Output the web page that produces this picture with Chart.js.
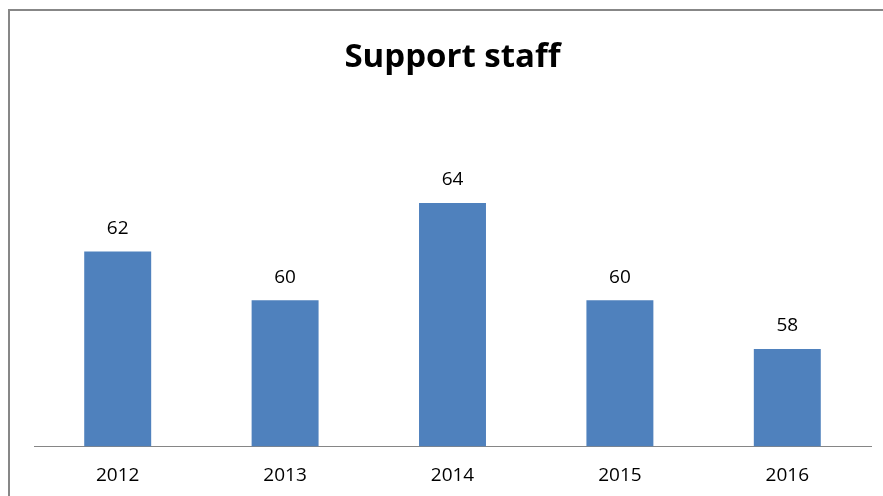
<!DOCTYPE html>
<html>
<head>
<meta charset="utf-8">
<script src="https://cdn.jsdelivr.net/npm/chart.js@4"></script>
<style>
  body { margin: 0; background: #fff; }
  #wrap { position: relative; width: 883px; height: 496px; overflow: hidden; }
  #frame { position: absolute; left: 8px; top: 9px; width: 900px; height: 520px; border-top: 2px solid #878787; border-left: 2px solid #878787; }
  canvas { position: absolute; left: 0; top: 0; }
</style>
</head>
<body>
<div id="wrap">
  <div id="frame"></div>
  <canvas id="chart" width="883" height="496"></canvas>
</div>
<script>
const years = ["2012", "2013", "2014", "2015", "2016"];
const staff = [62, 60, 64, 60, 58];

const context = document.getElementById("chart").getContext("2d");

// value labels above the bars
const barLabels = {
    id: "barLabels",
    afterDatasetsDraw(chart) {
        const ctx = chart.ctx;
        const meta = chart.getDatasetMeta(0);
        ctx.save();
        ctx.font = "19px 'Open Sans'";
        ctx.fillStyle = "#000";
        ctx.textAlign = "center";
        ctx.textBaseline = "middle";
        meta.data.forEach((bar, i) => {
            ctx.fillText(staff[i], bar.x, bar.y - 23);
        });
        ctx.restore();
    }
};

new Chart(context, {
    type: "bar",
    data: {
        labels: years,
        datasets: [{
            label: "Support staff",
            data: staff,
            backgroundColor: "#4F81BD",
            barPercentage: 0.4,
            categoryPercentage: 1
        }]
    },
    options: {
        responsive: false,
        animation: false,
        layout: { padding: { left: 34, right: 12, top: 0, bottom: -9 } },
        plugins: {
            legend: { display: false },
            tooltip: { enabled: false },
            title: {
                display: true,
                text: "Support staff",
                color: "#000",
                font: { family: "'Open Sans'", size: 33, weight: "bold" },
                padding: { top: 38, bottom: 28 }
            }
        },
        scales: {
            x: {
                grid: { display: false, drawTicks: false },
                border: { color: "#868686", width: 1 },
                ticks: { color: "#000", padding: 18, font: { family: "'Open Sans'", size: 19 } }
            },
            y: {
                display: false,
                min: 54,
                max: 68
            }
        }
    },
    plugins: [barLabels]
});
</script>
</body>
</html>
